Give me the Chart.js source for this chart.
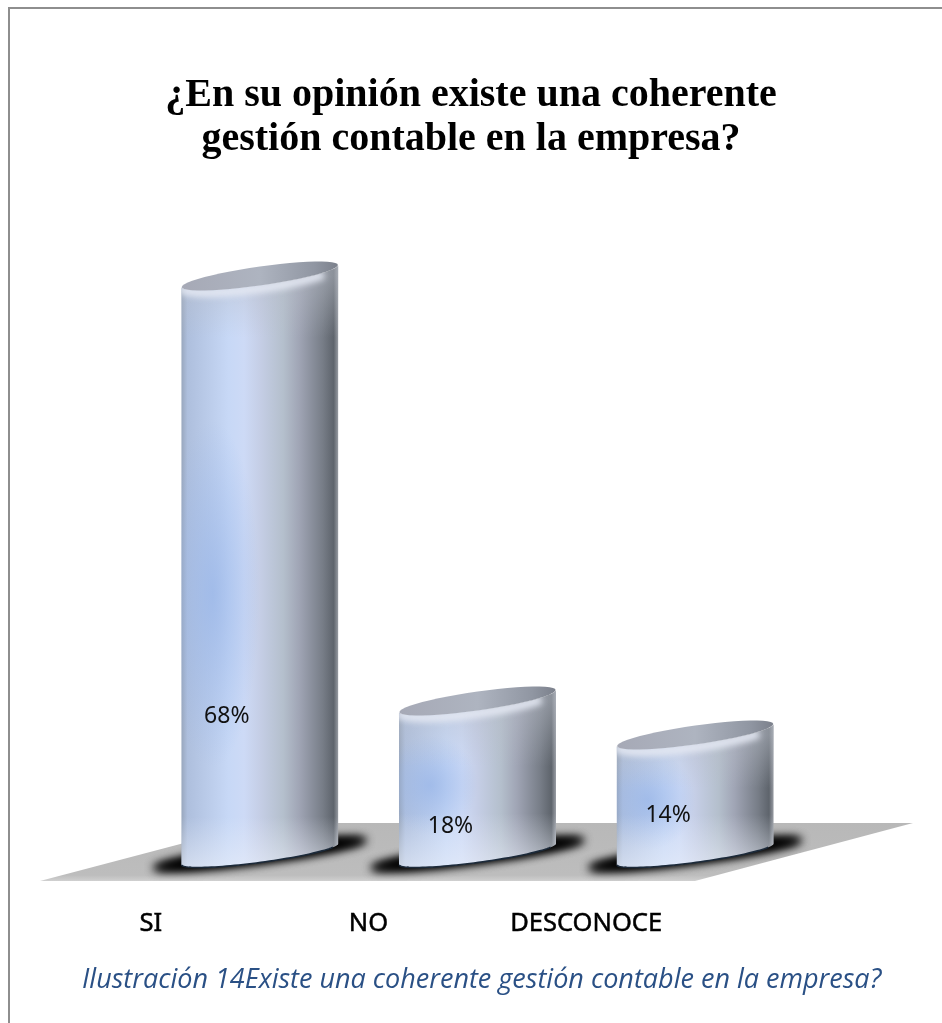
<!DOCTYPE html>
<html lang="es">
<head>
<meta charset="utf-8">
<title>Gestión contable</title>
<script src="https://cdn.jsdelivr.net/npm/chart.js@4/dist/chart.umd.min.js"></script>
<style>
    html, body { margin: 0; padding: 0; background: #fff; overflow: hidden; }
    #page { position: relative; width: 942px; height: 1023px; }
    #frame {
        position: absolute; left: 8px; top: 7px; right: 0; bottom: 0;
        border-top: 2px solid #8e8e8e; border-left: 2px solid #8e8e8e;
    }
    #chart { position: absolute; left: 0; top: 0; }
    #caption {
        position: absolute; left: 82px; top: 959px; white-space: nowrap;
        font: italic 27px "Open Sans", sans-serif; color: #2a5085;
    }
</style>
</head>
<body>
<div id="page">
    <div id="frame"></div>
    <canvas id="chart" width="942" height="1023"></canvas>
    <div id="caption">Ilustración 14Existe una coherente gestión contable en la empresa?</div>
</div>
<script>
const titleLines = ['¿En su opinión existe una coherente', 'gestión contable en la empresa?'];
const categories = ['SI', 'NO', 'DESCONOCE'];
const percentValues = [68, 18, 14];

// where each % label sits, relative to the bar centre and top
const labelShiftX = [-33, -27, -27];
const labelShiftY = [440, 125, 80];

// floor depth of the fake 3d view, bars stand about half way back
const floorDepthX = 218;
const floorDepthY = 58;
const barLift = 27;

// point on a tilted ellipse, t=0 is the right end
function ellipsePoint(cx, cy, rx, tilt, ry, t) {
    return [cx + rx * Math.cos(t), cy - tilt * Math.cos(t) - ry * Math.sin(t)];
}

function traceArc(ctx, e, from, to, moveFirst) {
    const steps = 48;
    for (let i = 0; i <= steps; i++) {
        const t = from + (to - from) * i / steps;
        const p = ellipsePoint(e.cx, e.cy, e.rx, e.tilt, e.ry, t);
        if (i === 0 && moveFirst) ctx.moveTo(p[0], p[1]);
        else ctx.lineTo(p[0], p[1]);
    }
}

function drawFloor(chart) {
    const ctx = chart.ctx;
    const a = chart.chartArea;
    const floor = new Path2D();
    floor.moveTo(a.left - 2, a.bottom);
    floor.lineTo(a.right, a.bottom);
    floor.lineTo(a.right + floorDepthX, a.bottom - floorDepthY);
    floor.lineTo(a.left + floorDepthX, a.bottom - floorDepthY);
    floor.closePath();

    const grad = ctx.createLinearGradient(0, a.bottom - floorDepthY, 0, a.bottom);
    grad.addColorStop(0, '#b8b8b8');
    grad.addColorStop(0.9, '#bdbdbd');
    grad.addColorStop(1, '#d0d0d0');
    ctx.save();
    ctx.fillStyle = grad;
    ctx.fill(floor);

    // soft contact shadow under each cylinder, painted twice for a black core
    ctx.clip(floor);
    ctx.filter = 'blur(5px)';
    ctx.fillStyle = '#000';
    chart.getDatasetMeta(0).data.forEach(bar => {
        const e = { cx: bar.x + floorDepthX / 2, cy: bar.base - barLift,
            rx: bar.width / 2 + 28, tilt: 14, ry: 9 };
        for (let i = 0; i < 2; i++) {
            ctx.beginPath();
            traceArc(ctx, e, 0, Math.PI * 2, true);
            ctx.fill();
        }
    });
    ctx.restore();
}

function drawCylinder(ctx, bar) {
    const cx = bar.x + floorDepthX / 2;
    const rx = bar.width / 2;
    const topY = bar.y - barLift;
    const baseY = bar.base - barLift;
    const top = { cx: cx, cy: topY, rx: rx, tilt: 11, ry: 9.5 };
    const bottom = { cx: cx, cy: baseY, rx: rx, tilt: 10.5, ry: 8.5 };
    const x0 = cx - rx;
    const w = rx * 2;

    const body = new Path2D();
    traceArc(body, top, Math.PI, 2 * Math.PI, true);
    traceArc(body, bottom, 0, -Math.PI, false);
    body.closePath();

    ctx.save();
    ctx.clip(body);

    const side = ctx.createLinearGradient(x0, 0, x0 + w, 0);
    side.addColorStop(0, '#98a6bc');
    side.addColorStop(0.04, '#aebfdd');
    side.addColorStop(0.3, '#c7d8f6');
    side.addColorStop(0.4, '#cddaf6');
    side.addColorStop(0.5, '#c5cee6');
    side.addColorStop(0.65, '#b4bfcc');
    side.addColorStop(0.75, '#a0a5b5');
    side.addColorStop(0.9, '#777d87');
    side.addColorStop(0.97, '#5e646c');
    side.addColorStop(1, '#9a9ea5');
    ctx.fillStyle = side;
    ctx.fillRect(x0, topY - 30, w, baseY - topY + 60);

    // blue glow on the left of the body
    const h = baseY - topY;
    const glowY = topY + h * 0.55;
    const glowH = Math.max(h * 0.3, 50);
    ctx.save();
    ctx.translate(x0 + w * 0.2, glowY);
    ctx.scale(1, glowH / (w * 0.3));
    const glow = ctx.createRadialGradient(0, 0, 0, 0, 0, w * 0.3);
    glow.addColorStop(0, 'rgba(150,180,232,0.7)');
    glow.addColorStop(1, 'rgba(150,180,232,0)');
    ctx.fillStyle = glow;
    ctx.fillRect(-w, -w, w * 2, w * 2);
    ctx.restore();

    // greyer near the top, washed out near the floor
    const shade = ctx.createLinearGradient(0, topY, 0, baseY + 14);
    const fadeTop = Math.min(60 / h, 0.4);
    const fadeLow = 1 - Math.min(50 / h, 0.4);
    shade.addColorStop(0, 'rgba(185,190,200,0.5)');
    shade.addColorStop(fadeTop, 'rgba(185,190,200,0)');
    shade.addColorStop(fadeLow, 'rgba(235,240,250,0)');
    shade.addColorStop(1, 'rgba(235,240,250,0.6)');
    ctx.fillStyle = shade;
    ctx.fillRect(x0, topY - 30, w, h + 60);

    // soft lighter band just under the front of the top face
    ctx.filter = 'blur(3px)';
    ctx.strokeStyle = 'rgba(228,232,242,0.95)';
    ctx.lineWidth = 9;
    ctx.beginPath();
    traceArc(ctx, { ...top, ry: top.ry + 3 }, Math.PI * 1.0, Math.PI * 1.8, true);
    ctx.stroke();
    ctx.restore();

    // thin dark contact line along the front of the base
    ctx.save();
    ctx.strokeStyle = '#1c2a3a';
    ctx.lineWidth = 1.6;
    ctx.beginPath();
    traceArc(ctx, bottom, -Math.PI * 0.98, -Math.PI * 0.12, true);
    ctx.stroke();
    ctx.restore();

    // top face
    const face = new Path2D();
    traceArc(face, { ...top, rx: rx - 0.5 }, 0, Math.PI * 2, true);
    face.closePath();
    const faceFill = ctx.createLinearGradient(x0, 0, x0 + w, 0);
    faceFill.addColorStop(0, '#a6a9b6');
    faceFill.addColorStop(0.5, '#aeb4c0');
    faceFill.addColorStop(0.85, '#9096a2');
    faceFill.addColorStop(1, '#7b808b');
    ctx.save();
    ctx.filter = 'blur(0.7px)';
    ctx.fillStyle = faceFill;
    ctx.fill(face);
    ctx.restore();
}

const cylinderPlugin = {
    id: 'cylinders',
    beforeDatasetsDraw(chart) {
        drawFloor(chart);
    },
    afterDatasetsDraw(chart) {
        const ctx = chart.ctx;
        const bars = chart.getDatasetMeta(0).data;
        bars.forEach(bar => drawCylinder(ctx, bar));

        ctx.save();
        ctx.fillStyle = '#111';
        ctx.font = '23px "Noto Sans", sans-serif';
        ctx.textAlign = 'center';
        ctx.textBaseline = 'middle';
        bars.forEach((bar, i) => {
            const x = bar.x + floorDepthX / 2 + labelShiftX[i];
            const y = bar.y - barLift + labelShiftY[i];
            ctx.fillText(percentValues[i] + '%', x, y);
        });
        ctx.restore();
    }
};

new Chart(document.getElementById('chart'), {
    type: 'bar',
    data: {
        labels: categories,
        datasets: [{
            data: percentValues,
            backgroundColor: 'transparent',
            barPercentage: 0.722,
            categoryPercentage: 1
        }]
    },
    options: {
        responsive: false,
        animation: false,
        plugins: {
            legend: { display: false },
            tooltip: { enabled: false },
            title: {
                display: true,
                text: titleLines,
                color: '#000',
                font: { family: '"Liberation Serif", serif', size: 40, weight: 'bold', lineHeight: 1.1 },
                padding: { top: 74, bottom: 39 }
            }
        },
        scales: {
            x: {
                grid: { display: false },
                border: { display: false },
                ticks: {
                    color: '#000',
                    font: { family: '"Noto Sans", sans-serif', size: 25.5 },
                    textStrokeColor: '#000',
                    textStrokeWidth: 0.5,
                    padding: 19,
                    maxRotation: 0
                },
                afterFit(scale) { scale.height = 142; }
            },
            y: {
                min: 0,
                max: 80,
                grid: { display: false },
                border: { display: false },
                ticks: { display: false },
                afterFit(scale) { scale.width = 42; }
            },
            // empty axis, keeps the plot clear of the floor's right wing
            yRight: {
                axis: 'y',
                position: 'right',
                grid: { display: false },
                border: { display: false },
                ticks: { display: false },
                afterFit(scale) { scale.width = 247; }
            }
        }
    },
    plugins: [cylinderPlugin]
});
</script>
</body>
</html>
